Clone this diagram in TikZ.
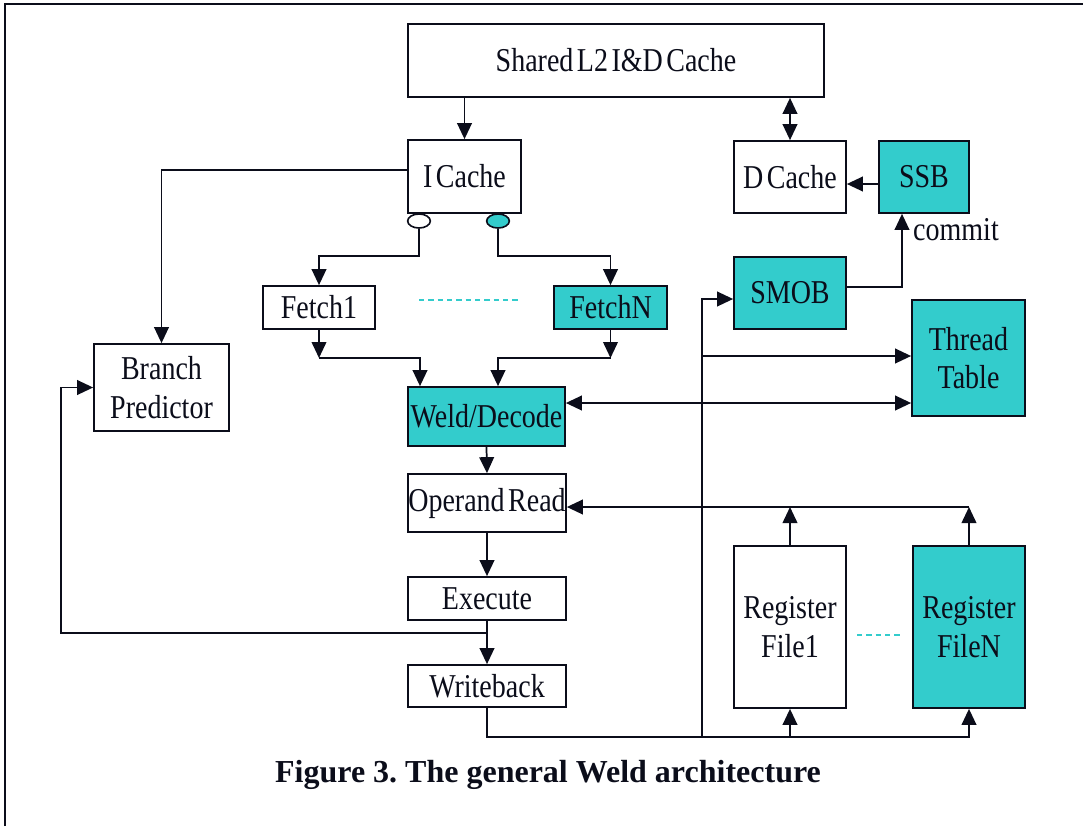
\documentclass[tikz,border=0pt]{standalone}
\usepackage{fontspec}
\setmainfont{Liberation Serif}
\newfontfamily\narrowserif[FakeStretch=0.84,WordSpace=0.5]{Liberation Serif}
\usetikzlibrary{arrows.meta,shapes.geometric}
\definecolor{wteal}{HTML}{33CCCC}
\definecolor{ink}{HTML}{0B0D1A}
\tikzset{
  sz/.style 2 args={minimum width=#1*0.75pt, minimum height=#2*0.75pt},
  lbl/.style={text=ink, font=\narrowserif\fontsize{25}{29}\selectfont},
  blk/.style={lbl, draw=ink, line width=1.3pt, inner sep=0pt, align=center},
  wbox/.style={blk, fill=white},
  tbox/.style={blk, fill=wteal},
  conn/.style={draw=ink, line width=1.3pt},
  arr/.style={conn, -{Triangle[length=12pt,width=11pt]}},
  arrs/.style={conn, {Triangle[length=12pt,width=11pt]}-{Triangle[length=12pt,width=11pt]}},
  tap/.style={ellipse, draw=ink, line width=1.2pt, inner sep=0pt,
              minimum width=17pt, minimum height=10.5pt},
  dots/.style={draw=wteal, line width=1.1pt, dash pattern=on 4pt off 3pt},
}
\begin{document}
\frenchspacing
\begin{tikzpicture}[x=0.75pt,y=-0.75pt]
\useasboundingbox (0,0) rectangle (1083,826);

% frame
\coordinate (fa) at (5,826);
\coordinate (fb) at (5,4);
\coordinate (fc) at (1083,4);
\draw[ink, line width=2.2pt] (fa) -- (fb) -- (fc);

% blocks
\node[wbox, sz={416}{73}] (l2)     at (616,60.5)  {Shared L2 I\&D Cache};
\node[wbox, sz={113}{73}] (icache) at (464.5,176.5) {I Cache};
\node[wbox, sz={112}{72}] (dcache) at (790,177)  {D Cache};
\node[tbox, sz={90}{72}]  (ssb)    at (924,177)  {SSB};
\node[tbox, sz={112}{72}] (smob)   at (790,293)  {SMOB};
\node[tbox, sz={113}{116}] (thread) at (968.5,358) {Thread\\Table};
\node[wbox, sz={135}{87}] (branch) at (161.5,387.5) {Branch\\Predictor};
\node[wbox, sz={112}{43}] (fetch1) at (319,307.5) {Fetch1};
\node[tbox, sz={113}{43}] (fetchn) at (610.5,307.5) {FetchN};
\node[tbox, sz={157}{59}] (weld)   at (486.5,416.5) {Weld/Decode};
\node[wbox, sz={158}{58}] (opread) at (487,503)  {Operand Read};
\node[wbox, sz={158}{43}] (exec)   at (487,598.5) {Execute};
\node[wbox, sz={158}{42}] (wback)  at (487,686)  {Writeback};
\node[wbox, sz={112}{162}] (rf1)   at (790,627)  {Register\\File1};
\node[tbox, sz={112}{162}] (rfn)   at (969,627)  {Register\\FileN};

% fetch ports under the I cache
\node[tap, fill=white] (port1) at (419,221) {};
\node[tap, fill=wteal] (portn) at (498,221) {};

\node[lbl] (commit) at (956,230) {commit};

% helper levels
\coordinate (yssb)  at (0,184);
\coordinate (ycm)   at (902,287);
\coordinate (yic)   at (0,170);
\coordinate (yfork) at (0,256);
\coordinate (ymrg)  at (0,358);
\coordinate (xw1)   at (420,0);
\coordinate (xwn)   at (498,0);
\coordinate (ytt)   at (0,403);
\coordinate (yfb)   at (0,633);
\coordinate (xfb)   at (61,633);
\coordinate (bus)   at (702,737);
\coordinate (ysm)   at (0,299);
\coordinate (ytn)   at (0,356);
\coordinate (yrd)   at (0,507);

% memory side
\draw[arr]  (l2.south -| icache.north) -- (icache.north);
\draw[arrs] (l2.south -| dcache.north) -- (dcache.north);
\draw[arr]  (ssb.west |- yssb) -- (dcache.east |- yssb);
\draw[arr]  (smob.east |- ycm) -| (ycm |- ssb.south);

% instruction fetch
\draw[arr] (icache.west |- yic) -| (branch.north);
\draw[arr] (port1.south) -- (port1.south |- yfork) -| (fetch1.north);
\draw[arr] (portn.south) -- (portn.south |- yfork) -| (fetchn.north);
\draw[arr] (fetch1.south) -- (fetch1.south |- ymrg);
\draw[arr] (fetch1.south |- ymrg) -| (xw1 |- weld.north);
\draw[arr] (fetchn.south) -- (fetchn.south |- ymrg);
\draw[arr] (fetchn.south |- ymrg) -| (xwn |- weld.north);

% pipeline
\draw[arr]  (weld.south) -- (opread.north);
\draw[arr]  (opread.south) -- (exec.north);
\draw[arr]  (exec.south) -- (wback.north);
\draw[arr]  (exec.south |- yfb) -- (xfb) |- (branch.west);
\draw[arrs] (weld.east |- ytt) -- (thread.west |- ytt);

% write-back bus
\draw[arr] (wback.south) |- (rfn.south |- bus) -- (rfn.south);
\draw[arr] (rf1.south |- bus) -- (rf1.south);
\draw[arr] (bus) |- (smob.west |- ysm);
\draw[arr] (bus |- ytn) -- (thread.west |- ytn);

% register read
\draw[arr] (rf1.north) -- (rf1.north |- yrd);
\draw[arr] (rfn.north) -- (rfn.north |- yrd);
\draw[arr] (rfn.north |- yrd) -- (opread.east |- yrd);

% replication marks
\coordinate (d1a) at (419,300);
\coordinate (d1b) at (521,300);
\draw[dots] (d1a) -- (d1b);
\coordinate (d2a) at (857,635);
\coordinate (d2b) at (903,635);
\draw[dots] (d2a) -- (d2b);

% caption
\node[text=ink, font=\fontsize{24}{28}\selectfont\bfseries] (cap) at (548,775)
  {Figure 3. The general Weld architecture};
\end{tikzpicture}
\end{document}
